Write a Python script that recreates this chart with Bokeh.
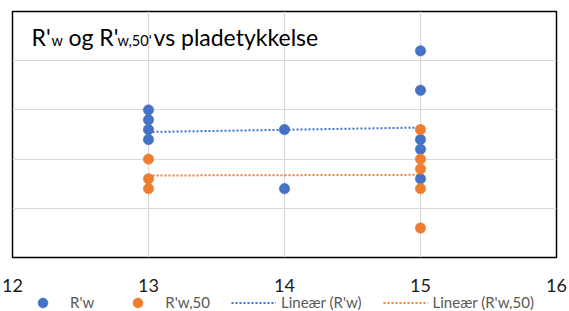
import numpy as np
from bokeh.plotting import figure
from bokeh.layouts import column
from bokeh.models import (Range1d, FixedTicker, Label, Legend, LegendItem)
from bokeh.embed import file_html
from bokeh.resources import INLINE

# ---- data ----
x_rw = [13, 13, 13, 13, 14, 14, 15, 15, 15, 15, 15]
y_rw = [55, 54, 53, 52, 53, 47, 61, 57, 52, 51, 48]
x_rw50 = [13, 13, 13, 15, 15, 15, 15, 15]
y_rw50 = [50, 48, 47, 53, 50, 49, 47, 43]
x_ticks = [12, 13, 14, 15, 16]
y_grid = [40, 45, 50, 55, 60, 65]
series_names = ["R'w", "R'w,50", "Lineær (R'w)", "Lineær (R'w,50)"]

BLUE = "#4472C4"
ORANGE = "#ED7D31"
FONT = "Lato"
W = 569

p = figure(width=W, height=294, output_backend="svg", toolbar_location=None,
           x_range=Range1d(12, 16), y_range=Range1d(40, 65),
           min_border_left=12, min_border_right=13, min_border_top=11,
           min_border_bottom=37)
p.background_fill_color = "white"
p.border_fill_color = "white"
p.outline_line_color = "#000000"
p.outline_line_width = 1.5

p.xaxis.ticker = FixedTicker(ticks=x_ticks)
p.xaxis.axis_line_color = None
p.xaxis.major_tick_line_color = None
p.xaxis.minor_tick_line_color = None
p.xaxis.major_label_text_font = FONT
p.xaxis.major_label_text_font_size = "18px"
p.xaxis.major_label_text_color = "#1a1a1a"
p.xaxis.major_label_standoff = 15
p.yaxis.visible = False
p.yaxis.ticker = FixedTicker(ticks=y_grid)
p.xgrid.ticker = FixedTicker(ticks=x_ticks)
p.xgrid.grid_line_color = "#d9d9d9"
p.ygrid.grid_line_color = "#d9d9d9"
p.xgrid.grid_line_width = 1.2
p.ygrid.grid_line_width = 1.2

# trend lines (linear least squares through each series)
def trend(xs, ys):
    k, b = np.polyfit(xs, ys, 1)
    xx = np.array([min(xs), max(xs)], dtype=float)
    return xx, k * xx + b

tx1, ty1 = trend(x_rw, y_rw)
tx2, ty2 = trend(x_rw50, y_rw50)

def draw_series(fig):
    t1 = fig.line(tx1, ty1, line_color=BLUE, line_width=2, line_dash="2 2")
    t2 = fig.line(tx2, ty2, line_color=ORANGE, line_width=2, line_dash="2 2")
    s1 = fig.scatter(x_rw, y_rw, size=10.5, fill_color=BLUE, line_color=BLUE, line_width=0.5)
    s2 = fig.scatter(x_rw50, y_rw50, size=10.5, fill_color=ORANGE, line_color=ORANGE, line_width=0.5)
    return s1, s2, t1, t2

draw_series(p)

# title made of pieces (subscripts)
def lab(txt, x, y, size):
    p.add_layout(Label(x=x, y=y, x_units="screen", y_units="screen", text=txt,
                       text_font=FONT, text_font_size=size, text_color="#000000",
                       text_baseline="alphabetic"))

big, small = "23px", "14.5px"
lab("R'", 19, 221, big)
lab("w", 39, 217, small)
lab("og R'", 56, 221, big)
lab("w,50'", 105, 217, small)
lab("vs pladetykkelse", 141, 221, big)

# legend strip (its own small figure; the series lie outside its view)
q = figure(width=W, height=17, output_backend="svg", toolbar_location=None,
           x_range=Range1d(0, 1), y_range=Range1d(0, 1),
           x_axis_location=None, y_axis_location=None, min_border=0)
q.grid.visible = False
q.outline_line_color = None
q.background_fill_color = "white"
q.border_fill_color = "white"
rs = draw_series(q)

legend = Legend(items=[LegendItem(label=n, renderers=[r]) for n, r in zip(series_names, rs)],
                orientation="horizontal", location=(8, -3.5),
                glyph_width=45, glyph_height=25, label_standoff=5, spacing=21,
                padding=0, margin=0, border_line_color=None,
                background_fill_alpha=0,
                label_text_font=FONT, label_text_font_size="15px",
                label_text_color="#595959", label_height=13)
q.add_layout(legend, "center")

layout = column(p, q, spacing=0)
open("out.html", "w").write(file_html(layout, INLINE))
